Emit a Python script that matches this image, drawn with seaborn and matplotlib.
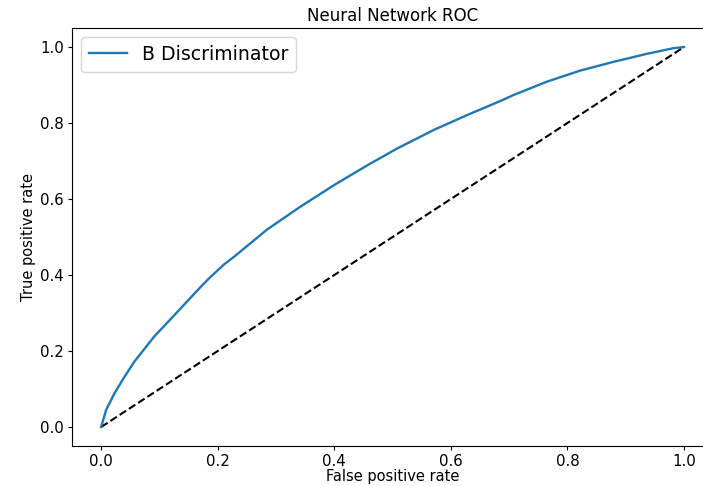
import numpy as np
import pandas as pd
import matplotlib
matplotlib.use("Agg")
import matplotlib.pyplot as plt
import seaborn as sns

fpr = [0.0, 0.0086, 0.023, 0.040, 0.057, 0.091, 0.126, 0.171, 0.185, 0.211, 0.228,
       0.285, 0.342, 0.400, 0.457, 0.508, 0.571, 0.628, 0.685, 0.708, 0.765,
       0.822, 0.879, 0.936, 0.982, 1.0]
tpr = [0.0, 0.045, 0.089, 0.132, 0.172, 0.238, 0.295, 0.369, 0.391, 0.428, 0.448,
       0.520, 0.580, 0.637, 0.689, 0.733, 0.782, 0.821, 0.858, 0.874, 0.909,
       0.938, 0.961, 0.982, 0.997, 1.0]
chance = [0.0, 1.0]
series_name = "B Discriminator"

df = pd.DataFrame({"fpr": fpr, "tpr": tpr})

fig = plt.figure(figsize=(7.03, 4.86), dpi=100)
ax = fig.add_axes([0.1024, 0.0823, 0.912, 0.860])

sns.lineplot(x=chance, y=chance, ax=ax, color="black", linestyle="--", linewidth=1.5)
sns.lineplot(data=df, x="fpr", y="tpr", ax=ax, color="#1f77b4", linewidth=1.7,
             label=series_name, sort=False, estimator=None)

ax.set_xlim(-0.05, 1.05)
ax.set_ylim(-0.05, 1.05)
ax.set_xticks([0.0, 0.2, 0.4, 0.6, 0.8, 1.0])
ax.set_yticks([0.0, 0.2, 0.4, 0.6, 0.8, 1.0])
ax.tick_params(labelsize=10.8, length=3, pad=3)
ax.set_xlabel("False positive rate", fontsize=10.5, labelpad=0)
ax.set_ylabel("True positive rate", fontsize=10.5, labelpad=3)
ax.set_title("Neural Network ROC", fontsize=12, pad=5)
ax.legend(loc="upper left", fontsize=13.6, handlelength=2.0, borderaxespad=0.5)

fig.savefig("out.png", dpi=100)
